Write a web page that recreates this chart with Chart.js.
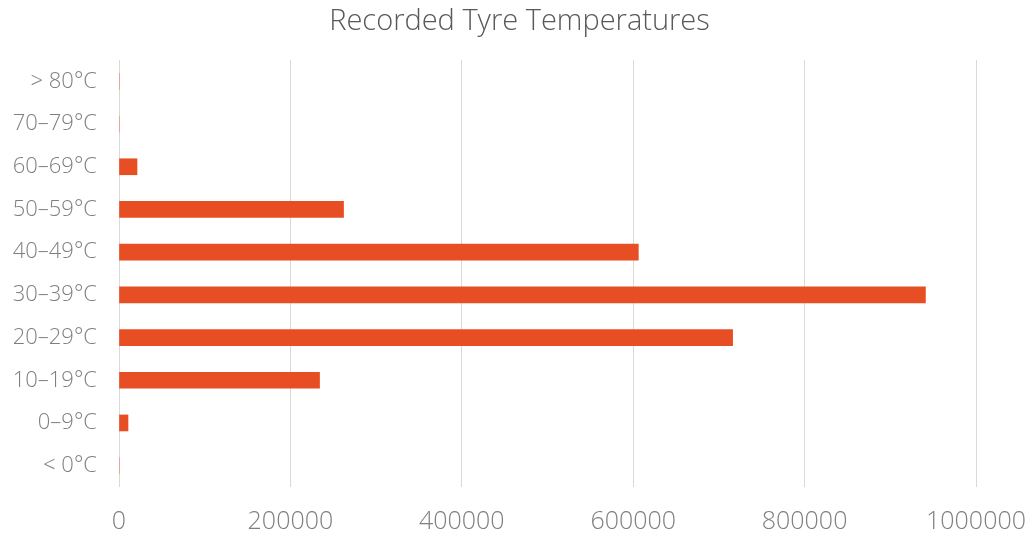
<!DOCTYPE html>
<html>
<head>
<meta charset="utf-8">
<script src="https://cdn.jsdelivr.net/npm/chart.js@4/dist/chart.umd.min.js"></script>
<style>
  html, body { margin: 0; padding: 0; background: #fff; }
  #wrap { width: 1031px; height: 537px; position: relative; }
</style>
</head>
<body>
<div id="wrap"><canvas id="c" width="1031" height="537"></canvas></div>
<script>
// categories, bottom to top as in the picture
const tempBands = ['< 0°C', '0–9°C', '10–19°C', '20–29°C', '30–39°C', '40–49°C', '50–59°C', '60–69°C', '70–79°C', '> 80°C'];
const recordCounts = [0, 10500, 234000, 716000, 941000, 606000, 262000, 21000, 0, 0];
const xTicks = [0, 200000, 400000, 600000, 800000, 1000000];

const barColor = '#E84E24';
const fontFamily = "'Open Sans', 'Liberation Sans', sans-serif";

new Chart(document.getElementById('c').getContext('2d'), {
  type: 'bar',
  data: {
    labels: tempBands,
    datasets: [{
      data: recordCounts,
      backgroundColor: barColor,
      borderWidth: 0,
      barThickness: 16,
    }],
  },
  options: {
    indexAxis: 'y',
    responsive: false,
    maintainAspectRatio: false,
    animation: false,
    layout: { padding: { left: 8, right: 0, top: 0, bottom: 0 } },
    plugins: {
      legend: { display: false },
      tooltip: { enabled: false },
      title: {
        display: true,
        text: 'Recorded Tyre Temperatures',
        color: '#595959',
        font: { family: fontFamily, size: 29, weight: 300, lineHeight: 1.2 },
        padding: { top: 4, bottom: 21.2 },
      },
    },
    scales: {
      x: {
        min: xTicks[0],
        max: xTicks[xTicks.length - 1],
        afterBuildTicks: s => { s.ticks = xTicks.map(v => ({ value: v })); },
        ticks: {
          color: '#7f7f7f',
          font: { family: fontFamily, size: 25, weight: 300, lineHeight: 1.2 },
          padding: 20,
          maxRotation: 0,
          callback: v => String(v),
        },
        grid: { color: '#d9d9d9', lineWidth: 1, drawTicks: false },
        border: { display: false },
        afterFit: s => { s.height = 50; s.paddingLeft = 0; s.paddingRight = 55; },
      },
      y: {
        reverse: true,
        ticks: { color: '#7f7f7f', font: { family: fontFamily, size: 22, weight: 300 }, padding: 22 },
        grid: { display: false, drawTicks: false },
        border: { display: false },
        afterFit: s => { s.width = 111; },
      },
    },
  },
});
</script>
</body>
</html>
